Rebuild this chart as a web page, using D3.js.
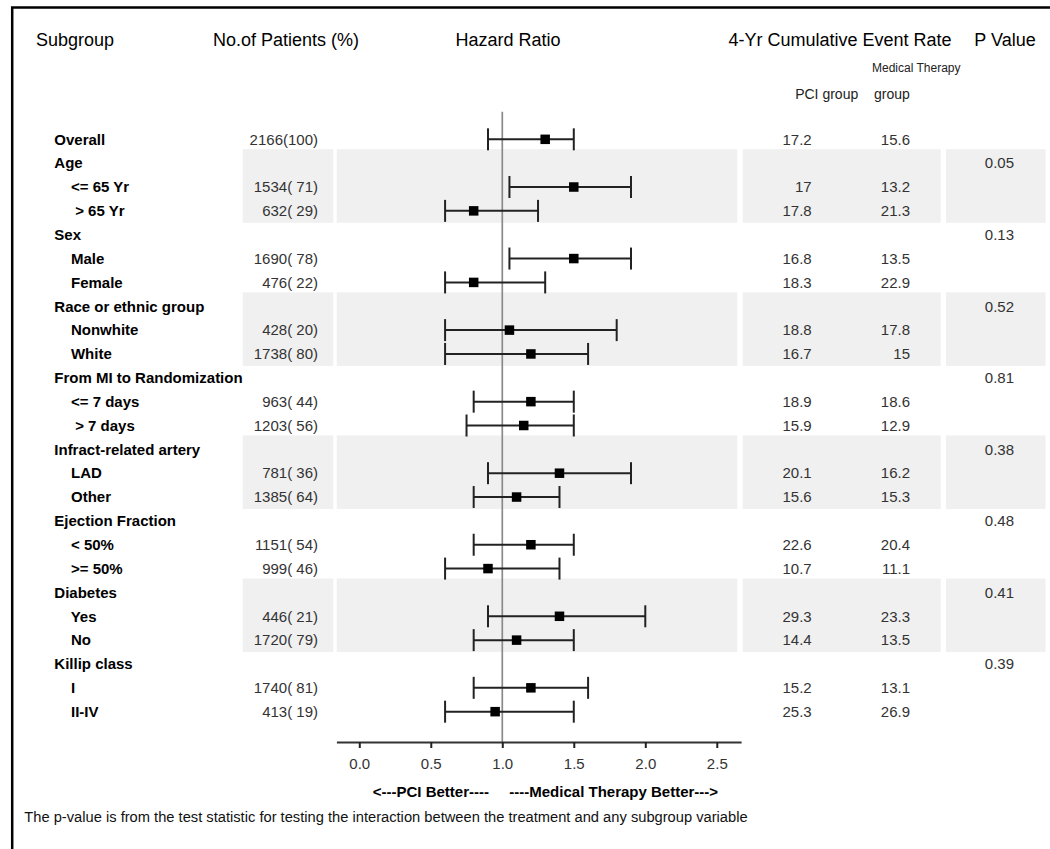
<!DOCTYPE html>
<html>
<head>
<meta charset="utf-8">
<script src="https://cdn.jsdelivr.net/npm/d3@7"></script>
<style>
  html, body { margin: 0; padding: 0; background: #fff; }
  svg { display: block; font-family: "Liberation Sans", Arial, sans-serif; }
  text { white-space: pre; }
</style>
</head>
<body>
<svg id="chart" width="1050" height="849"></svg>
<script>
// ---------------- data ----------------
const labels = ["Overall", "Age", "    <= 65 Yr", "     > 65 Yr", "Sex", "    Male", "    Female",
  "Race or ethnic group", "    Nonwhite", "    White", "From MI to Randomization", "    <= 7 days", "     > 7 days",
  "Infract-related artery", "    LAD", "    Other", "Ejection Fraction", "    < 50%", "    >= 50%",
  "Diabetes", "    Yes", "    No", "Killip class", "    I", "    II-IV"];
const patients = ["2166(100)", null, "1534( 71)", "632( 29)", null, "1690( 78)", "476( 22)",
  null, "428( 20)", "1738( 80)", null, "963( 44)", "1203( 56)",
  null, "781( 36)", "1385( 64)", null, "1151( 54)", "999( 46)",
  null, "446( 21)", "1720( 79)", null, "1740( 81)", "413( 19)"];
const hazard = [1.3, null, 1.5, 0.8, null, 1.5, 0.8, null, 1.05, 1.2, null, 1.2, 1.15,
  null, 1.4, 1.1, null, 1.2, 0.9, null, 1.4, 1.1, null, 1.2, 0.95];
const lowerCI = [0.9, null, 1.05, 0.6, null, 1.05, 0.6, null, 0.6, 0.6, null, 0.8, 0.75,
  null, 0.9, 0.8, null, 0.8, 0.6, null, 0.9, 0.8, null, 0.8, 0.6];
const upperCI = [1.5, null, 1.9, 1.25, null, 1.9, 1.3, null, 1.8, 1.6, null, 1.5, 1.5,
  null, 1.9, 1.4, null, 1.5, 1.4, null, 2.0, 1.5, null, 1.6, 1.5];
const pciRate = ["17.2", null, "17", "17.8", null, "16.8", "18.3", null, "18.8", "16.7", null, "18.9", "15.9",
  null, "20.1", "15.6", null, "22.6", "10.7", null, "29.3", "14.4", null, "15.2", "25.3"];
const medRate = ["15.6", null, "13.2", "21.3", null, "13.5", "22.9", null, "17.8", "15", null, "18.6", "12.9",
  null, "16.2", "15.3", null, "20.4", "11.1", null, "23.3", "13.5", null, "13.1", "26.9"];
const pValue = [null, "0.05", null, null, "0.13", null, null, "0.52", null, null, "0.81", null, null,
  "0.38", null, null, "0.48", null, null, "0.41", null, null, "0.39", null, null];
const shadedGroups = [[1, 3], [7, 9], [13, 15], [19, 21]];   // row index ranges with gray band
const xTicks = [0.0, 0.5, 1.0, 1.5, 2.0, 2.5];

// ---------------- layout ----------------
const svg = d3.select("#chart");
const font = '"Liberation Sans", Arial, sans-serif';

const rowIdx = d3.range(labels.length);
const y = d3.scaleBand().domain(rowIdx).range([127.4, 723.6]).padding(0);
const yc = i => y(i) + y.bandwidth() / 2;

const x = d3.scaleLinear().domain([-0.16, 2.67]).range([336.4, 741.1]);
const axisY = 742;

// background
svg.append("rect").attr("width", 1050).attr("height", 849).attr("fill", "#fff");

// shaded bands
const bandCols = [[242.7, 333.3], [336.7, 737.3], [742.7, 940.7], [946, 1045.5]];
shadedGroups.forEach(([a, b]) => {
  bandCols.forEach(([x0, x1]) => {
    svg.append("rect")
      .attr("x", x0).attr("width", x1 - x0)
      .attr("y", y(a) - 2).attr("height", y(b) + y.bandwidth() - y(a) + 2)
      .attr("fill", "#f0f0f0");
  });
});

// frame
svg.append("rect").attr("x", 12.2).attr("y", 7.5).attr("width", 1200).attr("height", 1000)
  .attr("fill", "none").attr("stroke", "#000").attr("stroke-width", 2.5);

// headers
const hdr = svg.append("g").attr("font-size", 18).attr("fill", "#000");
hdr.append("text").attr("x", 36).attr("y", 46).text("Subgroup");
hdr.append("text").attr("x", 286).attr("y", 46).attr("text-anchor", "middle").text("No.of Patients (%)");
hdr.append("text").attr("x", 508).attr("y", 46).attr("text-anchor", "middle").text("Hazard Ratio");
hdr.append("text").attr("x", 840).attr("y", 46).attr("text-anchor", "middle").text("4-Yr Cumulative Event Rate");
hdr.append("text").attr("x", 1005).attr("y", 46).attr("text-anchor", "middle").text("P Value");
svg.append("text").attr("x", 872).attr("y", 71.7).attr("font-size", 12).attr("fill", "#222").text("Medical Therapy");
svg.append("text").attr("x", 826.7).attr("y", 99.3).attr("font-size", 14).attr("fill", "#222")
  .attr("text-anchor", "middle").text("PCI group");
svg.append("text").attr("x", 874).attr("y", 99.3).attr("font-size", 14).attr("fill", "#222").text("group");

// subgroup labels
svg.append("g").selectAll("text").data(rowIdx).join("text")
  .attr("x", 54.3).attr("y", i => yc(i) + 5.3)
  .attr("font-size", 15).attr("font-weight", "bold").attr("fill", "#000")
  .text(i => labels[i]);

// numeric columns
function column(values, xPos) {
  svg.append("g").selectAll("text").data(rowIdx.filter(i => values[i] != null)).join("text")
    .attr("x", xPos).attr("y", i => yc(i) + 5.3)
    .attr("text-anchor", "end").attr("font-size", 15).attr("fill", "#333")
    .text(i => values[i]);
}
column(patients, 318);
column(pciRate, 811.7);
column(medRate, 910);
column(pValue, 1014);

// reference line at HR = 1
svg.append("line").attr("x1", x(1)).attr("x2", x(1)).attr("y1", 111.7).attr("y2", axisY)
  .attr("stroke", "#8a8a8a").attr("stroke-width", 1.7);

// CI whiskers
const ciRows = rowIdx.filter(i => hazard[i] != null);
const ci = svg.append("g").attr("stroke", "#222").attr("stroke-width", 2);
ci.selectAll("line.h").data(ciRows).join("line").attr("class", "h")
  .attr("x1", i => x(lowerCI[i])).attr("x2", i => x(upperCI[i]))
  .attr("y1", yc).attr("y2", yc);
ci.selectAll("line.lc").data(ciRows).join("line").attr("class", "lc")
  .attr("x1", i => x(lowerCI[i])).attr("x2", i => x(lowerCI[i]))
  .attr("y1", i => yc(i) - 11).attr("y2", i => yc(i) + 11);
ci.selectAll("line.uc").data(ciRows).join("line").attr("class", "uc")
  .attr("x1", i => x(upperCI[i])).attr("x2", i => x(upperCI[i]))
  .attr("y1", i => yc(i) - 11).attr("y2", i => yc(i) + 11);
// squares
const sq = 9.5;
svg.append("g").selectAll("rect").data(ciRows).join("rect")
  .attr("x", i => x(hazard[i]) - sq / 2).attr("y", i => yc(i) - sq / 2)
  .attr("width", sq).attr("height", sq).attr("fill", "#000");

// x axis
const axis = d3.axisBottom(x).tickValues(xTicks).tickFormat(d3.format(".1f"))
  .tickSize(6).tickSizeOuter(0).tickPadding(10);
const gAx = svg.append("g").attr("transform", `translate(0,${axisY})`).call(axis);
gAx.select(".domain").attr("stroke", "#333").attr("stroke-width", 2.2);
gAx.selectAll(".tick line").attr("stroke", "#222").attr("stroke-width", 2);
gAx.selectAll(".tick text").attr("font-size", 15).attr("fill", "#333").attr("font-family", font);

// direction labels
svg.append("text").attr("x", 489).attr("y", 796.7).attr("text-anchor", "end")
  .attr("font-size", 15).attr("font-weight", "bold").text("<---PCI Better----");
svg.append("text").attr("x", 509.3).attr("y", 796.7)
  .attr("font-size", 15).attr("font-weight", "bold").text("----Medical Therapy Better--->");

// footnote
svg.append("text").attr("x", 24.3).attr("y", 821.7).attr("font-size", 14.7).attr("fill", "#111")
  .text("The p-value is from the test statistic for testing the interaction between the treatment and any subgroup variable");
</script>
</body>
</html>
